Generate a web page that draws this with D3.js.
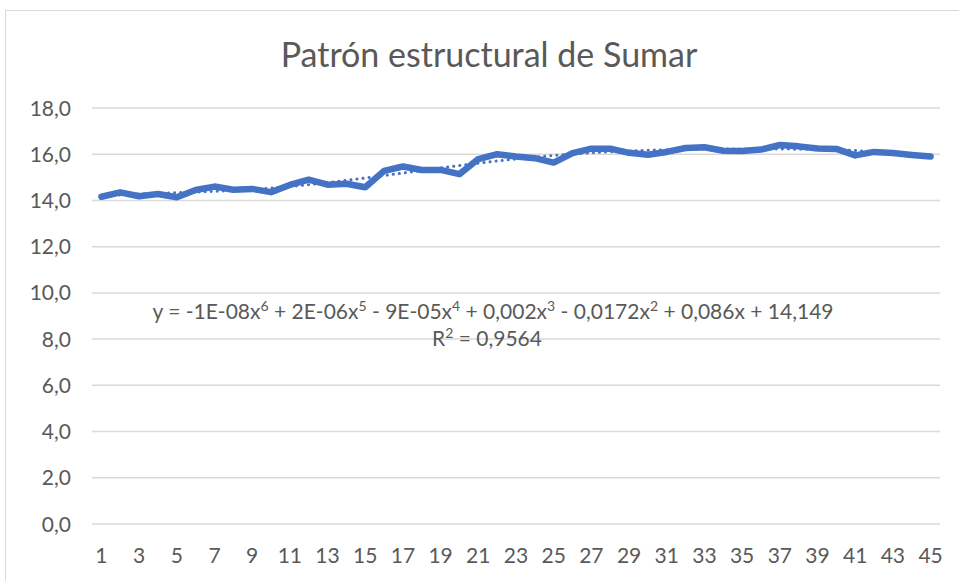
<!DOCTYPE html>
<html>
<head>
<meta charset="utf-8">
<script src="https://cdn.jsdelivr.net/npm/d3@7"></script>
<style>
  body { margin: 0; background: #fff; }
  text { font-family: Lato, "Open Sans", sans-serif; fill: #595959; }
</style>
</head>
<body>
<div id="chart"></div>
<script>
// data
const periods = d3.range(1, 46);
const values = [
  14.16, 14.35, 14.18, 14.28, 14.14, 14.45, 14.6, 14.46, 14.5, 14.36,
  14.67, 14.9, 14.68, 14.72, 14.57, 15.28, 15.47, 15.32, 15.32, 15.14,
  15.79, 16.0, 15.9, 15.83, 15.64, 16.05, 16.24, 16.24, 16.06, 15.98,
  16.1, 16.27, 16.3, 16.15, 16.14, 16.2, 16.4, 16.34, 16.25, 16.23,
  15.95, 16.1, 16.05, 15.97, 15.9
];
const yTicks = [0, 2, 4, 6, 8, 10, 12, 14, 16, 18];
const title = "Patrón estructural de Sumar";

const width = 959, height = 581;
const margin = { top: 108, right: 19, bottom: 57, left: 92 };
const plotW = width - margin.left - margin.right;
const plotH = height - margin.top - margin.bottom;
const blue = "#4472C4";
const fmt = d3.format(".1f");

const svg = d3.select("#chart").append("svg")
  .attr("width", width)
  .attr("height", height);

// chart frame
svg.append("rect")
  .attr("x", 5.5).attr("y", 10.5)
  .attr("width", 960).attr("height", 600)
  .attr("fill", "none").attr("stroke", "#d9d9d9");

svg.append("text")
  .attr("x", 489).attr("y", 67)
  .attr("text-anchor", "middle")
  .attr("font-size", 34)
  .text(title);

const g = svg.append("g").attr("transform", `translate(${margin.left},${margin.top})`);

const x = d3.scaleBand().domain(periods).range([0, plotW]);
const y = d3.scaleLinear().domain([0, 18]).range([plotH, 0]);
const cx = d => x(d) + x.bandwidth() / 2;

// gridlines
g.append("g").selectAll("line").data(yTicks).join("line")
  .attr("x1", 0).attr("x2", plotW)
  .attr("y1", d => y(d)).attr("y2", d => y(d))
  .attr("stroke", "#d9d9d9").attr("stroke-width", 1.5);

// y labels
g.append("g").selectAll("text").data(yTicks).join("text")
  .attr("x", -21).attr("y", d => y(d))
  .attr("dy", "0.36em")
  .attr("text-anchor", "end")
  .attr("font-size", 21)
  .text(d => fmt(d).replace(".", ","));

// x labels (every other one, like the original)
g.append("g").selectAll("text").data(periods.filter(p => p % 2 === 1)).join("text")
  .attr("x", d => cx(d)).attr("y", plotH + 39)
  .attr("text-anchor", "middle")
  .attr("font-size", 21)
  .text(d => d);

// polynomial trendline (order 6), least squares on scaled x
function polyFit(xs, ys, deg) {
  const n = deg + 1;
  const A = Array.from({ length: n }, () => new Array(n + 1).fill(0));
  xs.forEach((xv, k) => {
    const pw = d3.range(n).map(i => Math.pow(xv, i));
    for (let i = 0; i < n; i++) {
      for (let j = 0; j < n; j++) A[i][j] += pw[i] * pw[j];
      A[i][n] += pw[i] * ys[k];
    }
  });
  for (let c = 0; c < n; c++) {
    let p = c;
    for (let r = c + 1; r < n; r++) if (Math.abs(A[r][c]) > Math.abs(A[p][c])) p = r;
    [A[c], A[p]] = [A[p], A[c]];
    for (let r = 0; r < n; r++) {
      if (r === c) continue;
      const f = A[r][c] / A[c][c];
      for (let k = c; k <= n; k++) A[r][k] -= f * A[c][k];
    }
  }
  return d3.range(n).map(i => A[i][n] / A[i][i]);
}
const sx = p => (p - 23) / 22;
const coef = polyFit(periods.map(sx), values, 6);
const trendAt = p => coef.reduce((s, c, i) => s + c * Math.pow(sx(p), i), 0);
const trendPts = d3.range(1, 45.01, 0.25).map(p => [p, trendAt(p)]);
const xLin = d3.scaleLinear().domain([1, 45]).range([cx(1), cx(45)]);

g.append("path")
  .datum(trendPts)
  .attr("fill", "none")
  .attr("stroke", blue)
  .attr("stroke-width", 3)
  .attr("stroke-dasharray", "0.1 6")
  .attr("stroke-linecap", "round")
  .attr("d", d3.line().x(d => xLin(d[0])).y(d => y(d[1])));

// series line
g.append("path")
  .datum(values)
  .attr("fill", "none")
  .attr("stroke", blue)
  .attr("stroke-width", 6.5)
  .attr("stroke-linejoin", "round")
  .attr("stroke-linecap", "round")
  .attr("d", d3.line().x((d, i) => cx(periods[i])).y(d => y(d)));

// trendline equation label
const eq = svg.append("text")
  .attr("x", 493).attr("y", 319)
  .attr("text-anchor", "middle")
  .attr("font-size", 21);
const parts = [
  ["y = -1E-08x", "6"], [" + 2E-06x", "5"], [" - 9E-05x", "4"], [" + 0,002x", "3"],
  [" - 0,0172x", "2"], [" + 0,086x + 14,149", null]
];
parts.forEach(([t, sup]) => {
  eq.append("tspan").text(t);
  if (sup) eq.append("tspan").attr("baseline-shift", "super").attr("font-size", 14).text(sup);
});
const r2 = svg.append("text")
  .attr("x", 487).attr("y", 346)
  .attr("text-anchor", "middle")
  .attr("font-size", 21);
r2.append("tspan").text("R");
r2.append("tspan").attr("baseline-shift", "super").attr("font-size", 14).text("2");
r2.append("tspan").text(" = 0,9564");
</script>
</body>
</html>
